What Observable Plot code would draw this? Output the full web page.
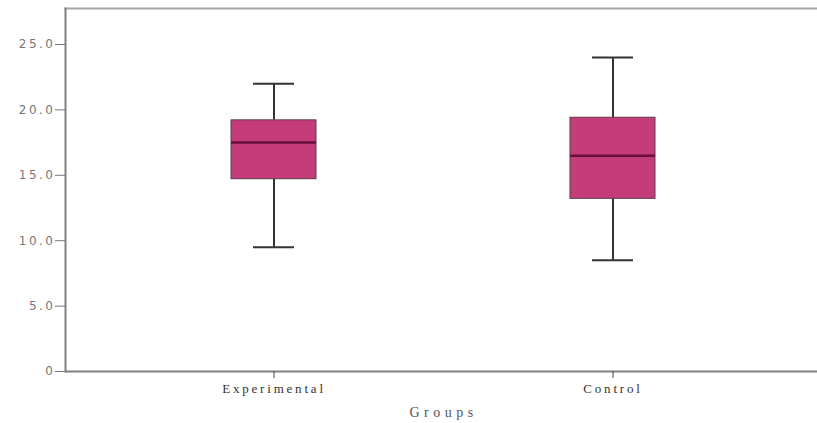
<!DOCTYPE html>
<html>
<head>
<meta charset="utf-8">
<script src="https://cdn.jsdelivr.net/npm/d3@7"></script>
<script src="https://cdn.jsdelivr.net/npm/@observablehq/plot@0.6"></script>
<style>
  html, body { margin: 0; padding: 0; background: #fff; overflow: hidden; }
  #chart svg { display: block; }
  g[aria-label="y-axis tick label"] text { letter-spacing: 2.5px; }
  g[aria-label="x-axis tick label"] text { letter-spacing: 2.8px; }
  g[aria-label="text"] text { letter-spacing: 4.5px; }
</style>
</head>
<body>
<div id="chart"></div>
<script>
const groups = ["Experimental", "Control"];
const mins = [9.5, 8.5];
const q1s = [14.7, 13.2];
const medians = [17.5, 16.5];
const q3s = [19.2, 19.4];
const maxs = [22.0, 24.0];
const yTicks = [0, 5, 10, 15, 20, 25];
const yTickLabels = ["0", "5.0", "10.0", "15.0", "20.0", "25.0"];
const xTitle = "Groups";

const data = groups.map((g, i) => ({
  group: g, min: mins[i], q1: q1s[i], median: medians[i], q3: q3s[i], max: maxs[i]
}));

const chart = Plot.plot({
  width: 817,
  height: 423,
  marginLeft: 65,
  marginRight: -4,
  marginTop: 8,
  marginBottom: 52,
  style: { background: "#fff", overflow: "visible" },
  x: { domain: groups, paddingInner: 0.75, paddingOuter: 0.487, label: null },
  y: { domain: [0, 27.75], label: null },
  marks: [
    Plot.frame({ anchor: "top", stroke: "#a8a8a8", strokeWidth: 2 }),
    Plot.ruleX(data, { x: "group", y1: "min", y2: "q1", stroke: "#333", strokeWidth: 2 }),
    Plot.ruleX(data, { x: "group", y1: "q3", y2: "max", stroke: "#333", strokeWidth: 2 }),
    Plot.barY(data, { x: "group", y1: "q1", y2: "q3", fill: "#c43d7a", stroke: "#5e3a4e", strokeWidth: 1 }),
    Plot.tickY(data, { x: "group", y: "median", stroke: "#6a0f3c", strokeWidth: 2.5 }),
    Plot.tickY(data, { x: "group", y: "min", stroke: "#333", strokeWidth: 2, insetLeft: 22, insetRight: 22 }),
    Plot.tickY(data, { x: "group", y: "max", stroke: "#333", strokeWidth: 2, insetLeft: 22, insetRight: 22 }),
    Plot.ruleY([0], { stroke: "#808080", strokeWidth: 2 }),
    Plot.frame({ anchor: "left", stroke: "#808080", strokeWidth: 2 }),
    Plot.axisY({
      ticks: yTicks,
      tickFormat: d => yTickLabels[yTicks.indexOf(d)],
      tickSize: 10,
      tickPadding: 0,
      fontSize: 12,
      fontFamily: "DejaVu Sans",
      color: "#777",
      stroke: "#777",
      label: null
    }),
    Plot.axisX({
      tickSize: 7,
      tickPadding: 5,
      fontSize: 13,
      fontFamily: "Liberation Serif",
      color: "#333",
      stroke: "#444",
      label: null
    }),
    Plot.text([xTitle], {
      frameAnchor: "bottom",
      dy: 45,
      lineAnchor: "bottom",
      fontSize: 14,
      fontFamily: "Liberation Serif",
      fill: "#555"
    })
  ]
});
document.getElementById("chart").appendChild(chart);
</script>
</body>
</html>
